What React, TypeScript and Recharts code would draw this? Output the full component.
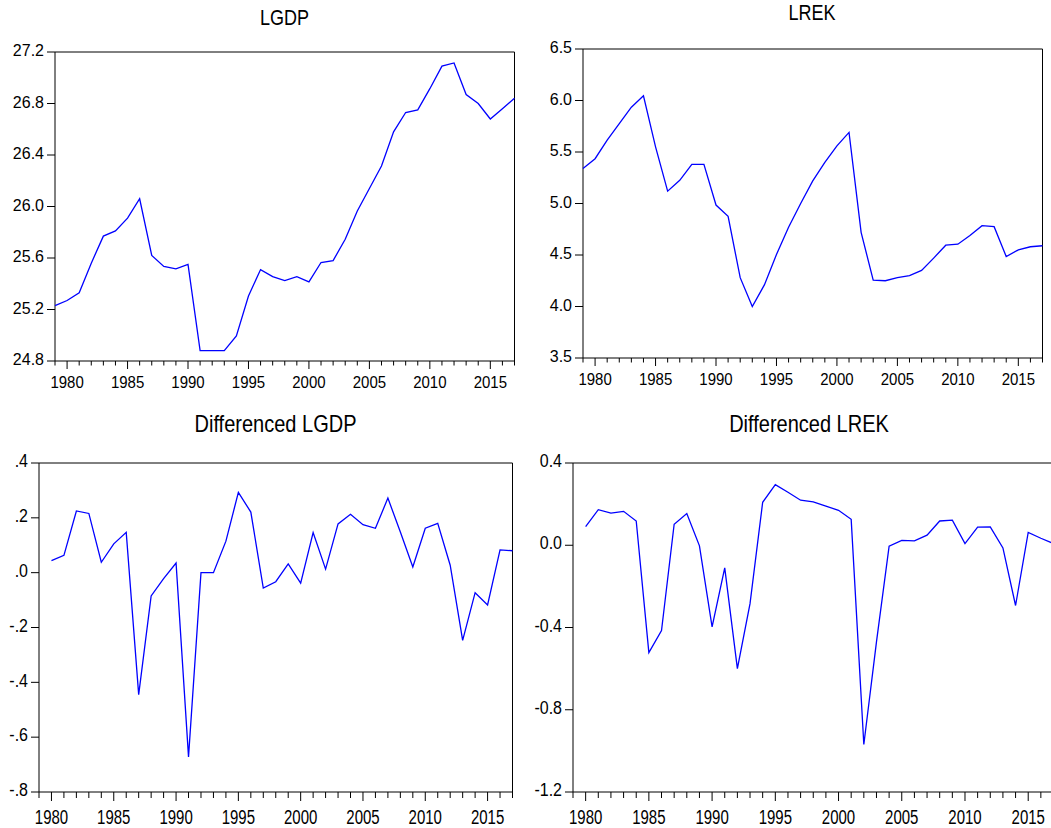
import React from 'react';
import { LineChart, Line, XAxis, YAxis, ReferenceArea } from 'recharts';

// ---------- data ----------
const years = [
  1979, 1980, 1981, 1982, 1983, 1984, 1985, 1986, 1987, 1988,
  1989, 1990, 1991, 1992, 1993, 1994, 1995, 1996, 1997, 1998,
  1999, 2000, 2001, 2002, 2003, 2004, 2005, 2006, 2007, 2008,
  2009, 2010, 2011, 2012, 2013, 2014, 2015, 2016, 2017,
];

const lgdp = [
  25.23, 25.27, 25.33, 25.56, 25.77, 25.81, 25.91, 26.06, 25.62, 25.535,
  25.515, 25.55, 24.88, 24.88, 24.88, 24.995, 25.305, 25.51, 25.455, 25.425,
  25.455, 25.415, 25.565, 25.58, 25.745, 25.965, 26.14, 26.315, 26.58, 26.73,
  26.75, 26.915, 27.09, 27.115, 26.87, 26.8, 26.68, 26.76, 26.84,
];

const lrek = [
  5.34, 5.435, 5.615, 5.775, 5.935, 6.045, 5.55, 5.12, 5.225, 5.38,
  5.38, 4.985, 4.875, 4.28, 4.0, 4.21, 4.505, 4.77, 5.0, 5.22,
  5.4, 5.56, 5.69, 4.72, 4.255, 4.25, 4.28, 4.3, 4.35, 4.47,
  4.595, 4.605, 4.69, 4.785, 4.775, 4.485, 4.55, 4.58, 4.59,
];

const diffYears = [
  1980, 1981, 1982, 1983, 1984, 1985, 1986, 1987, 1988, 1989,
  1990, 1991, 1992, 1993, 1994, 1995, 1996, 1997, 1998, 1999,
  2000, 2001, 2002, 2003, 2004, 2005, 2006, 2007, 2008, 2009,
  2010, 2011, 2012, 2013, 2014, 2015, 2016, 2017,
];

const dLgdp = [
  0.044, 0.063, 0.225, 0.216, 0.038, 0.105, 0.147, -0.445, -0.085, -0.022,
  0.035, -0.672, 0.0, 0.0, 0.115, 0.293, 0.221, -0.056, -0.033, 0.032,
  -0.038, 0.146, 0.013, 0.178, 0.213, 0.175, 0.162, 0.272, 0.148, 0.021,
  0.162, 0.18, 0.027, -0.247, -0.073, -0.118, 0.083, 0.08,
];

const dLrek = [
  0.091, 0.173, 0.156, 0.165, 0.118, -0.522, -0.415, 0.102, 0.154, -0.003,
  -0.397, -0.11, -0.6, -0.284, 0.209, 0.295, 0.258, 0.219, 0.211, 0.19,
  0.17, 0.126, -0.969, -0.47, -0.005, 0.024, 0.021, 0.049, 0.118, 0.122,
  0.008, 0.088, 0.089, -0.013, -0.293, 0.062, 0.034, 0.008,
];

const lgdpTicks = [24.8, 25.2, 25.6, 26.0, 26.4, 26.8, 27.2];
const lrekTicks = [3.5, 4.0, 4.5, 5.0, 5.5, 6.0, 6.5];
const dLgdpTicks = [-0.8, -0.6, -0.4, -0.2, 0.0, 0.2, 0.4];
const dLrekTicks = [-1.2, -0.8, -0.4, 0.0, 0.4];

const titles = ['LGDP', 'LREK', 'Differenced LGDP', 'Differenced LREK'];

// ---------- tables ----------
const levelRows = years.map((year, i) => ({ year, lgdp: lgdp[i], lrek: lrek[i] }));
const diffRows = diffYears.map((year, i) => ({ year, dLgdp: dLgdp[i], dLrek: dLrek[i] }));

const FONT = '"Liberation Sans", Arial, Helvetica, sans-serif';

const fixed1 = (v: number) => v.toFixed(1);
const eviews = (v: number) => {
  const s = Math.abs(v).toFixed(1).replace(/^0/, '');
  return v < -1e-9 ? '-' + s : s;
};

const makeXTick = (major: number, minor: number, labelDy: number, fontSize: number, stretch: number) => (props: any) => {
  const { x, y, payload } = props;
  const isMajor = payload.value % 5 === 0;
  return (
    <g>
      <line x1={x} x2={x} y1={y} y2={y + (isMajor ? major : minor)} stroke="#000" strokeWidth={1} />
      {isMajor && (
        <text
          x={0}
          y={0}
          transform={`translate(${x},${y + labelDy}) scale(1,${stretch})`}
          textAnchor="middle"
          fontSize={fontSize}
          fill="#000"
          fontFamily={FONT}
        >
          {payload.value}
        </text>
      )}
    </g>
  );
};

const makeYTick = (fontSize: number, stretch: number) => (props: any) => {
  const { x, y, payload, tickFormatter } = props;
  const label = tickFormatter ? tickFormatter(payload.value) : String(payload.value);
  const base = y + fontSize * 0.355 - 1.5;
  return (
    <text
      x={0}
      y={0}
      transform={`translate(${x},${base}) scale(1,${stretch})`}
      textAnchor="end"
      fontSize={fontSize}
      fill="#000"
      fontFamily={FONT}
    >
      {label}
    </text>
  );
};

type Box = { x0: number; y0: number; x1: number; y1: number };

function Panel(p: {
  box: Box;
  data: any[];
  dataKey: string;
  yTicks: number[];
  yFmt: (v: number) => string;
  major: number;
  minor: number;
  labelDy: number;
  xStretch: number;
  yStretch: number;
}) {
  const padL = 70, padR = 10, padT = 22, padB = 45;
  const pw = p.box.x1 - p.box.x0;
  const ph = p.box.y1 - p.box.y0;
  const width = pw + padL + padR;
  const height = ph + padT + padB;
  const yMin = p.yTicks[0];
  const yMax = p.yTicks[p.yTicks.length - 1];
  const XTick = makeXTick(p.major, p.minor, p.labelDy, 15, p.xStretch);
  const YTick = makeYTick(16, p.yStretch);
  return (
    <div style={{ position: 'absolute', left: p.box.x0 - padL, top: p.box.y0 - padT }}>
      <LineChart width={width} height={height} data={p.data} margin={{ top: padT, right: padR, left: 0, bottom: 0 }}>
        <XAxis
          dataKey="year"
          type="number"
          domain={[years[0], years[years.length - 1]]}
          ticks={years}
          interval={0}
          height={padB}
          axisLine={false}
          tickLine={false}
          tickSize={0}
          tickMargin={0}
          tick={XTick}
        />
        <YAxis
          type="number"
          domain={[yMin, yMax]}
          ticks={p.yTicks}
          interval={0}
          width={padL}
          axisLine={false}
          tickLine={{ stroke: '#000', strokeWidth: 1 }}
          tickSize={8}
          tickMargin={3}
          tickFormatter={p.yFmt}
          tick={YTick}
        />
        <ReferenceArea
          x1={years[0]}
          x2={years[years.length - 1]}
          y1={yMin}
          y2={yMax}
          fill="none"
          fillOpacity={0}
          stroke="#000"
          strokeWidth={1}
          ifOverflow="visible"
        />
        <Line
          type="linear"
          dataKey={p.dataKey}
          stroke="#0000ff"
          strokeWidth={1.3}
          dot={false}
          activeDot={false}
          isAnimationActive={false}
        />
      </LineChart>
    </div>
  );
}

function Title(p: { text: string; cx: number; baseline: number; size: number }) {
  const off = 0.8465 * p.size;
  return (
    <div
      style={{
        position: 'absolute',
        left: p.cx - 150,
        width: 300,
        top: p.baseline - off,
        textAlign: 'center',
        fontSize: p.size,
        lineHeight: `${p.size}px`,
        fontFamily: FONT,
        color: '#000',
        whiteSpace: 'nowrap',
        transform: 'scaleY(1.18)',
        transformOrigin: `50% ${off}px`,
      }}
    >
      {p.text}
    </div>
  );
}

export default function App() {
  return (
    <div
      style={{
        position: 'absolute',
        left: 0,
        top: 0,
        width: 1051,
        height: 828,
        overflow: 'hidden',
        background: '#fff',
        fontFamily: FONT,
      }}
    >
      <Title text={titles[0]} cx={284.5} baseline={25} size={18} />
      <Title text={titles[1]} cx={812} baseline={20} size={18} />
      <Title text={titles[2]} cx={275.5} baseline={432} size={20} />
      <Title text={titles[3]} cx={809} baseline={432} size={20} />

      <Panel box={{ x0: 55, y0: 52, x1: 514.5, y1: 361 }} data={levelRows} dataKey="lgdp"
        yTicks={lgdpTicks} yFmt={fixed1} major={8} minor={4.5} labelDy={27} xStretch={1.05} yStretch={1.0} />
      <Panel box={{ x0: 582.5, y0: 49, x1: 1042, y1: 358 }} data={levelRows} dataKey="lrek"
        yTicks={lrekTicks} yFmt={fixed1} major={8} minor={4.5} labelDy={27} xStretch={1.05} yStretch={1.0} />
      <Panel box={{ x0: 39, y0: 463, x1: 512.5, y1: 792 }} data={diffRows} dataKey="dLgdp"
        yTicks={dLgdpTicks} yFmt={eviews} major={9} minor={6} labelDy={32} xStretch={1.3} yStretch={1.1} />
      <Panel box={{ x0: 572.5, y0: 463, x1: 1053, y1: 792 }} data={diffRows} dataKey="dLrek"
        yTicks={dLrekTicks} yFmt={fixed1} major={9} minor={6} labelDy={32} xStretch={1.3} yStretch={1.1} />
    </div>
  );
}
